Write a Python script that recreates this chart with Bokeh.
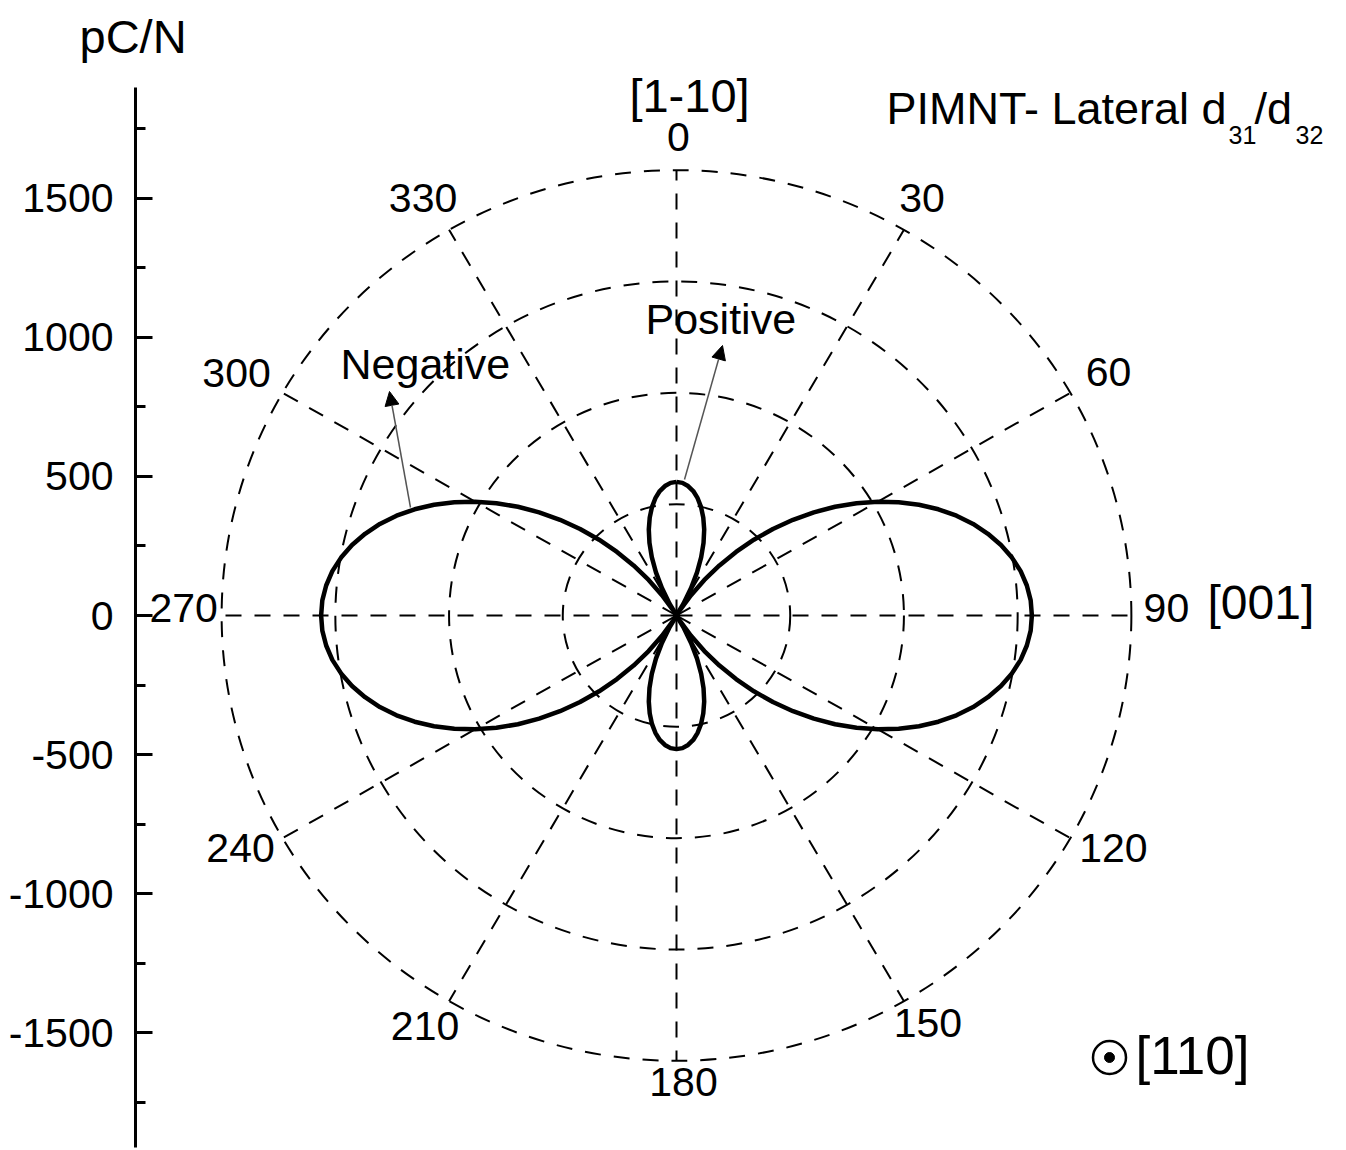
import numpy as np
from bokeh.plotting import figure
from bokeh.models import ColumnDataSource, FixedTicker, Arrow, NormalHead, Range1d, Label
from bokeh.core.properties import value
from bokeh.embed import file_html
from bokeh.resources import INLINE

# ---------------- data ----------------
# lateral piezoelectric coefficient d(theta), pC/N, every 2.5 deg from 0 to 360 deg
# (0 deg = [1-10], 90 deg = [001]; sign separates the positive and negative lobes)
d_pcn = [480, 477, 467, 451, 428, 399, 364, 324, 278, 227, 171, 111, 48, -19, -89, -161, -235, -310,
         -385, -460, -535, -609, -681, -751, -818, -881, -941, -997, -1048, -1094, -1134, -1169, -1198,
         -1221, -1237, -1247, -1250,
         -1247, -1237, -1221, -1198, -1169, -1134, -1094, -1048, -997, -941, -881, -818, -751, -681,
         -609, -535, -460, -385, -310, -235, -161, -89, -19, 48, 111, 171, 227, 278, 324, 364, 399,
         428, 451, 467, 477, 480,
         477, 467, 451, 428, 399, 364, 324, 278, 227, 171, 111, 48, -19, -89, -161, -235, -310,
         -385, -460, -535, -609, -681, -751, -818, -881, -941, -997, -1048, -1094, -1134, -1169, -1198,
         -1221, -1237, -1247, -1250,
         -1247, -1237, -1221, -1198, -1169, -1134, -1094, -1048, -997, -941, -881, -818, -751, -681,
         -609, -535, -460, -385, -310, -235, -161, -89, -19, 48, 111, 171, 227, 278, 324, 364, 399,
         428, 451, 467, 477, 480]
angle_deg = [2.5 * i for i in range(len(d_pcn))]

ring_radii = [400, 800, 1200, 1600]
spoke_angles = [0, 30, 60, 90, 120, 150, 180, 210, 240, 270, 300, 330]
spoke_labels = ["0", "30", "60", "90", "120", "150", "180", "210", "240", "270", "300", "330"]
y_major_ticks = [-1500, -1000, -500, 0, 500, 1000, 1500]
y_minor_ticks = [-1750, -1250, -750, -250, 250, 750, 1250, 1750]
y_unit = "pC/N"

# ---------------- geometry ----------------
W, H = 1346, 1150
PX_X = 0.2843    # px per pC/N, horizontal
PX_Y = 0.27833   # px per pC/N, vertical
CX, CY = 676.0, 615.0          # polar centre in page pixels
FRAME_L = 135
FRAME_T = 70

def X(px):
    return (px - CX) / PX_X

def Y(py):
    return (CY - py) / PX_Y

FONT = "Liberation Sans"

p = figure(width=W, height=H,
           x_range=Range1d(X(FRAME_L), X(W)),
           y_range=Range1d(Y(H), Y(FRAME_T)),
           x_axis_location=None, y_axis_location="left",
           output_backend="svg", toolbar_location=None,
           min_border_left=FRAME_L, min_border_right=0, min_border_top=FRAME_T, min_border_bottom=0)
p.grid.visible = False
p.outline_line_color = None
p.background_fill_color = "white"
p.border_fill_color = "white"

# unit label at the top-left (title, so that it is not clipped by the frame)
p.title.text = y_unit
p.title.text_font = FONT
p.title.text_font_style = "normal"
p.title.text_font_size = "47px"
p.title.text_color = "black"
p.title.align = "left"
p.title.offset = 79 - FRAME_L
p.title.standoff = 14
p.title.vertical_align = "middle"

ax = p.yaxis[0]
ax.ticker = FixedTicker(ticks=y_major_ticks, minor_ticks=y_minor_ticks)
ax.major_label_overrides = {t: str(t) for t in y_major_ticks}
ax.bounds = (Y(1147), Y(87))
ax.axis_line_width = 3
ax.axis_line_color = "black"
ax.major_tick_in = 17
ax.major_tick_out = 0
ax.minor_tick_in = 10
ax.minor_tick_out = 0
ax.major_tick_line_width = 3
ax.minor_tick_line_width = 3
ax.major_tick_line_color = "black"
ax.minor_tick_line_color = "black"
ax.major_label_text_font = FONT
ax.major_label_text_font_size = "41px"
ax.major_label_text_color = "black"
ax.major_label_standoff = 22

DASH = "16 13"

# rings
rmax = ring_radii[-1]
p.ellipse(x=[0] * len(ring_radii), y=[0] * len(ring_radii),
          width=[2 * r for r in ring_radii], height=[2 * r for r in ring_radii],
          fill_color=None, line_color="black", line_width=2, line_dash=DASH)

# spokes
sa = np.radians(spoke_angles)
p.segment(x0=[0] * len(sa), y0=[0] * len(sa), x1=rmax * np.sin(sa), y1=rmax * np.cos(sa),
          line_color="black", line_width=2, line_dash=DASH)

# curve
th = np.radians(angle_deg)
d = np.array(d_pcn, dtype=float)
p.line(d * np.sin(th), d * np.cos(th), line_color="black", line_width=4.5, line_join="round")

# angle labels (offsets in screen pixels from the spoke ends)
lab_dx = [2, 18, 38, 35, 43, 24, 7, -24, -42, -38, -46, -26]
lab_dy = [-33, -32, -21, -8, 10, 22, 21, 25, 10, -8, -20, -32]
lab_src = ColumnDataSource(dict(x=rmax * np.sin(sa), y=rmax * np.cos(sa), t=spoke_labels,
                                dx=lab_dx, dy=lab_dy))
p.text(x="x", y="y", text="t", x_offset="dx", y_offset="dy", source=lab_src,
       text_font=value(FONT), text_font_size=value("41px"), text_color="black",
       text_align="center", text_baseline="middle")

def lab(x, y, s, size, align="left"):
    p.add_layout(Label(x=X(x), y=Y(y), text=s, text_font=FONT, text_font_size=size,
                       text_color="black", text_align=align, text_baseline="middle"))

lab(689, 95, "[1-10]", "47px", align="center")
lab(886, 108, "PIMNT- Lateral d", "45px")
lab(1228, 134, "31", "25px")
lab(1254, 108, "/d", "45px")
lab(1295, 134, "32", "25px")
lab(1207, 602, "[001]", "48px")
lab(1135, 1055, "[110]", "53px")
lab(645, 318, "Positive", "43px")
lab(340, 363, "Negative", "43px")

# out-of-plane direction symbol
p.scatter(x=[X(1109)], y=[Y(1057)], marker="circle", size=33, fill_color=None,
          line_color="black", line_width=2.5)
p.scatter(x=[X(1109)], y=[Y(1057)], marker="circle", size=10, fill_color="black",
          line_color="black")

# arrows
for (x0, y0, x1, y1) in [(684, 479, 722, 345), (410, 507, 389, 391)]:
    p.add_layout(Arrow(end=NormalHead(size=14, fill_color="black", line_color="black"),
                       x_start=X(x0), y_start=Y(y0), x_end=X(x1), y_end=Y(y1),
                       line_color="#555555", line_width=1.5))

open("out.html", "w").write(file_html(p, INLINE))
